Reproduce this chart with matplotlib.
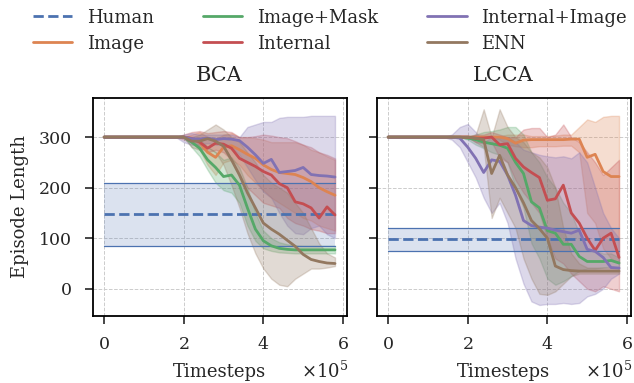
import numpy as np
import matplotlib
matplotlib.use("Agg")
import matplotlib.pyplot as plt
import seaborn as sns

sns.set_theme(style="ticks", palette="deep")
plt.rcParams['font.family'] = ['DejaVu Serif']
plt.rcParams['mathtext.fontset'] = 'dejavuserif'

# timesteps (30 evaluation points)
steps = np.arange(0, 600000, 20000)

names = ['Image', 'Image+Mask', 'Internal', 'Internal+Image', 'ENN']
colors = ['#DD8452', '#55A868', '#C44E52', '#8172B3', '#937860']
human_color = '#4C72B0'

flat = [300] * 10

# ---------------- BCA ----------------
bca_human = 148
bca_human_lo = 85
bca_human_hi = 210

bca_mean = {
    'Image': flat + [300, 298, 290, 270, 260, 280, 283, 275, 266, 258, 245, 236, 230, 228, 226, 220, 212, 200, 192, 185],
    'Image+Mask': flat + [300, 290, 278, 255, 240, 222, 225, 205, 160, 118, 95, 85, 80, 78, 77, 77, 77, 77, 77, 77],
    'Internal': flat + [300, 297, 290, 278, 288, 286, 278, 258, 250, 242, 232, 225, 208, 200, 172, 168, 160, 140, 162, 146],
    'Internal+Image': flat + [300, 297, 296, 298, 295, 297, 296, 293, 280, 265, 248, 256, 230, 232, 234, 240, 226, 224, 223, 221],
    'ENN': flat + [300, 292, 292, 297, 292, 282, 255, 225, 190, 160, 130, 118, 108, 96, 84, 68, 58, 54, 51, 50],
}
bca_lo = {
    'Image': flat + [300, 290, 275, 245, 225, 250, 255, 245, 225, 210, 195, 180, 170, 160, 150, 140, 135, 125, 120, 115],
    'Image+Mask': flat + [300, 280, 262, 235, 210, 195, 190, 170, 125, 95, 80, 75, 72, 71, 70, 70, 70, 70, 70, 70],
    'Internal': flat + [295, 290, 280, 270, 275, 270, 255, 225, 200, 185, 170, 165, 160, 140, 130, 125, 118, 115, 110, 110],
    'Internal+Image': flat + [290, 285, 285, 288, 285, 285, 280, 265, 240, 215, 192, 180, 150, 125, 110, 108, 120, 125, 108, 100],
    'ENN': flat + [300, 280, 275, 280, 270, 245, 205, 160, 110, 70, 40, 20, 8, 5, 20, 30, 40, 40, 42, 45],
}
bca_hi = {
    'Image': flat + [300, 305, 310, 300, 295, 305, 308, 300, 300, 298, 295, 290, 290, 290, 290, 285, 275, 270, 262, 255],
    'Image+Mask': flat + [300, 298, 295, 280, 270, 255, 260, 240, 200, 150, 115, 100, 92, 88, 86, 85, 85, 85, 85, 85],
    'Internal': flat + [305, 310, 312, 308, 310, 312, 310, 300, 300, 302, 305, 303, 300, 298, 292, 285, 280, 270, 265, 258],
    'Internal+Image': flat + [305, 308, 305, 305, 305, 305, 305, 300, 320, 325, 330, 330, 338, 340, 340, 340, 342, 342, 342, 342],
    'ENN': flat + [300, 300, 305, 315, 325, 315, 300, 290, 270, 250, 225, 210, 200, 190, 170, 150, 120, 90, 70, 62],
}

# ---------------- LCCA ----------------
lcca_human = 98
lcca_human_lo = 75
lcca_human_hi = 120

lcca_mean = {
    'Image': flat + [300, 300, 300, 300, 300, 297, 288, 294, 295, 295, 295, 295, 295, 296, 296, 260, 266, 232, 222, 222],
    'Image+Mask': flat + [298, 295, 290, 287, 284, 278, 250, 228, 172, 160, 115, 110, 88, 88, 64, 54, 54, 54, 56, 51],
    'Internal': flat + [300, 298, 298, 300, 285, 287, 258, 241, 230, 220, 175, 178, 205, 150, 130, 100, 76, 100, 110, 62],
    'Internal+Image': [300] * 9 + [298, 280, 258, 230, 255, 252, 225, 185, 135, 125, 122, 120, 116, 113, 110, 116, 78, 74, 62, 42, 41],
    'ENN': flat + [300, 298, 295, 228, 264, 225, 200, 170, 135, 119, 100, 45, 38, 36, 35, 35, 35, 35, 35, 35],
}
lcca_lo = {
    'Image': flat + [300, 300, 300, 300, 295, 285, 282, 280, 280, 282, 282, 282, 283, 283, 270, 150, 130, 80, 60, 50],
    'Image+Mask': flat + [295, 285, 278, 270, 265, 250, 200, 160, 90, 60, 20, 8, 15, 25, 35, 40, 40, 42, 44, 42],
    'Internal': flat + [300, 290, 288, 290, 260, 250, 215, 190, 170, 150, 100, 60, 50, 30, 15, 0, -5, 5, 0, -5],
    'Internal+Image': [300] * 8 + [295, 280, 250, 220, 180, 150, 170, 130, 60, 10, -25, -32, -30, -30, -28, -30, -28, -15, -10, 0, 20, 30],
    'ENN': flat + [300, 290, 280, 140, 180, 150, 120, 60, 20, -10, -12, -5, 10, 25, 30, 30, 30, 30, 30, 30],
}
lcca_hi = {
    'Image': flat + [300, 300, 300, 300, 302, 305, 305, 305, 302, 302, 302, 303, 305, 305, 320, 335, 330, 340, 342, 342],
    'Image+Mask': flat + [302, 305, 310, 312, 315, 320, 320, 305, 270, 250, 220, 200, 170, 150, 110, 80, 75, 70, 70, 62],
    'Internal': flat + [300, 305, 305, 310, 305, 300, 300, 315, 318, 318, 300, 305, 325, 300, 290, 270, 250, 225, 240, 255],
    'Internal+Image': [300] * 8 + [305, 320, 326, 310, 290, 300, 300, 300, 290, 275, 270, 265, 262, 260, 262, 258, 270, 250, 200, 150, 120, 100],
    'ENN': flat + [300, 305, 355, 300, 355, 320, 300, 290, 270, 260, 240, 200, 120, 70, 50, 42, 42, 42, 42, 42],
}

panels = [
    ('BCA', bca_mean, bca_lo, bca_hi, bca_human, bca_human_lo, bca_human_hi),
    ('LCCA', lcca_mean, lcca_lo, lcca_hi, lcca_human, lcca_human_lo, lcca_human_hi),
]

fig = plt.figure(figsize=(6.34, 3.83), dpi=100)
ax1 = fig.add_axes([0.146, 0.176, 0.4006, 0.569])
ax2 = fig.add_axes([0.594, 0.176, 0.4006, 0.569], sharey=ax1)

for ax, (title, mean, lo, hi, hm, hlo, hhi) in zip([ax1, ax2], panels):
    # human reference band
    ax.fill_between(steps, hlo, hhi, color=human_color, alpha=0.2, lw=0)
    ax.plot(steps, [hlo] * len(steps), color=human_color, lw=0.9)
    ax.plot(steps, [hhi] * len(steps), color=human_color, lw=0.9)
    ax.plot(steps, [hm] * len(steps), color=human_color, lw=2, ls='--', label='Human')
    for name, c in zip(names, colors):
        ax.fill_between(steps, lo[name], hi[name], color=c, alpha=0.27, lw=1)
        ax.plot(steps, mean[name], color=c, lw=2, label=name)

    ax.set_title(title, fontsize=15, pad=12)
    ax.set_xlabel('Timesteps', fontsize=13, labelpad=7)
    ax.grid(True, ls='--', lw=0.7, color='#cccccc')
    ax.ticklabel_format(style='sci', axis='x', scilimits=(0, 0), useMathText=True)
    ax.xaxis.get_offset_text().set_visible(False)
    ax.text(1.005, -0.255, r'$\times10^{5}$', transform=ax.transAxes, ha='right',
            va='center', fontsize=13)
    ax.set_xticks([0, 200000, 400000, 600000])
    ax.tick_params(labelsize=12.5, length=6, width=1.2, pad=9)
    for s in ax.spines.values():
        s.set_linewidth(1.3)
        s.set_color('black')

ax1.set_ylim(-53, 378)
ax1.set_yticks([0, 100, 200, 300])
ax1.set_ylabel('Episode Length', fontsize=13, labelpad=7)
plt.setp(ax2.get_yticklabels(), visible=False)

handles, labels = ax1.get_legend_handles_labels()
fig.legend(handles, labels, loc='upper center', bbox_to_anchor=(0.52, 1.02), ncol=3,
           frameon=False, fontsize=13, handlelength=2.2, handletextpad=0.8,
           columnspacing=2.7, labelspacing=0.45)

fig.savefig('out.png', dpi=100)
